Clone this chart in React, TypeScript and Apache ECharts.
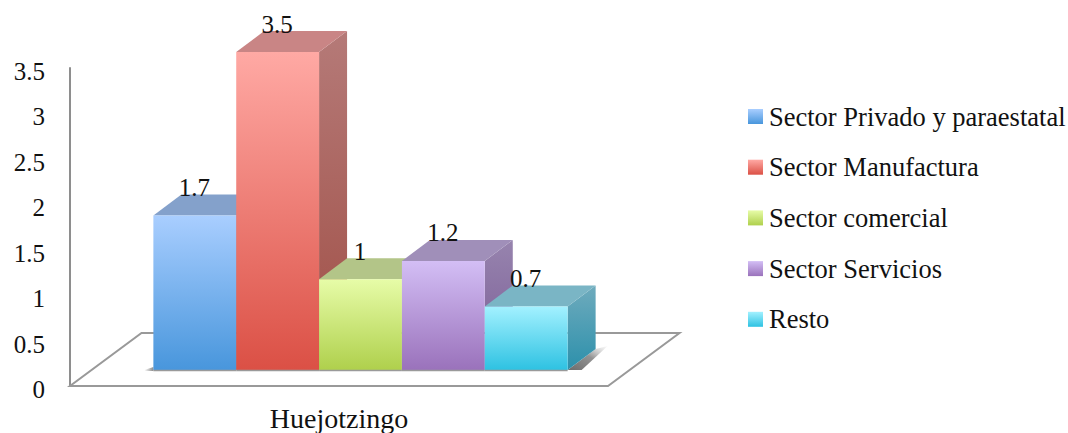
import React, { useEffect, useRef } from "react";
import * as echarts from "echarts";

const categories = ["Huejotzingo"];
const seriesNames = ["Sector Privado y paraestatal", "Sector Manufactura", "Sector comercial", "Sector Servicios", "Resto"];
const privado = [1.7];
const manufactura = [3.5];
const comercial = [1];
const servicios = [1.2];
const resto = [0.7];
const allValues = [privado, manufactura, comercial, servicios, resto];

const frontTop = ["#A9CEFF", "#FFA9A4", "#E7FCA8", "#D3BEF5", "#A3F1FF"];
const frontBottom = ["#4896DC", "#DB5045", "#AFD04C", "#9A72BB", "#2EC2E2"];
const topFace = ["#84A1CB", "#C98585", "#B3C588", "#A08FB9", "#7AB5C5"];
const sideTop = ["#7D9ACB", "#B57A78", "#A5B97F", "#9784AE", "#6FABBD"];
const sideBottom = ["#3C78AE", "#A04E45", "#86A23C", "#795A95", "#2C90AB"];

const SERIF = "'Liberation Serif', serif";
const FLOOR_DX = 71.5;
const FLOOR_DY = 53;
const BAR_DX = 28;
const BAR_DY = 21;
const BASE_DX = 21.5;
const BASE_DY = 16;
const GROUP_FRACTION = 0.77;

const grad = (a: string, b: string) =>
  new echarts.graphic.LinearGradient(0, 0, 0, 1, [
    { offset: 0, color: a },
    { offset: 1, color: b },
  ]);

export default function App() {
  const ref = useRef<HTMLDivElement>(null);
  useEffect(() => {
    const chart = echarts.init(ref.current!, null, { renderer: "svg" });
    const floor = {
      type: "custom",
      name: "floor",
      silent: true,
      data: [[0, 0]],
      encode: { x: 0, y: 1 },
      renderItem: (params: any, api: any) => {
        const cs = params.coordSys;
        const y0 = api.coord([0, 0])[1];
        const x0 = cs.x;
        const x1 = cs.x + cs.width;
        return {
          type: "polygon",
          shape: {
            points: [
              [x0, y0],
              [x1, y0],
              [x1 + FLOOR_DX, y0 - FLOOR_DY],
              [x0 + FLOOR_DX, y0 - FLOOR_DY],
            ],
          },
          style: { fill: "#ffffff", stroke: "#999999", lineWidth: 2 },
        };
      },
    };
    const bars = seriesNames.map((name, i) => ({
      type: "custom",
      name,
      silent: true,
      itemStyle: { color: grad(frontTop[i], frontBottom[i]) },
      data: allValues[i].map((v, c) => [c, v]),
      encode: { x: 0, y: 1 },
      renderItem: (_p: any, api: any) => {
        const cat = api.value(0);
        const val = api.value(1);
        const band = api.size([1, 0])[0];
        const [cx, y0] = api.coord([cat, 0]);
        const vy = api.coord([cat, val])[1];
        const w = (band * GROUP_FRACTION) / seriesNames.length;
        const l = cx + BASE_DX - (w * seriesNames.length) / 2 + i * w;
        const r = l + w;
        const b = y0 - BASE_DY;
        const t = vy - BASE_DY;
        const children: any[] = [];
        if (i === 0) {
          children.push({
            type: "polygon",
            shape: { points: [[l - 9, b], [l, b - 3], [l, b + 1], [l - 9, b + 1]] },
            style: {
              fill: new echarts.graphic.LinearGradient(1, 0, 0, 0, [
                { offset: 0, color: "rgba(90,90,90,0.7)" },
                { offset: 1, color: "rgba(90,90,90,0)" },
              ]),
            },
          });
        }
        if (i === seriesNames.length - 1) {
          children.push({
            type: "polygon",
            shape: { points: [[r, b], [r + BAR_DX, b - BAR_DY], [r + 40, b - BAR_DY - 3], [r + 14, b]] },
            style: {
              fill: new echarts.graphic.LinearGradient(0, 1, 1, 0, [
                { offset: 0, color: "rgba(70,70,70,0.8)" },
                { offset: 0.55, color: "rgba(100,100,100,0.7)" },
                { offset: 1, color: "rgba(170,170,170,0.05)" },
              ]),
            },
          });
        }
        children.push(
          {
            type: "polygon",
            shape: { points: [[r, t], [r + BAR_DX, t - BAR_DY], [r + BAR_DX, b - BAR_DY], [r, b]] },
            style: { fill: grad(sideTop[i], sideBottom[i]) },
          },
          {
            type: "polygon",
            shape: { points: [[l, t], [l + BAR_DX, t - BAR_DY], [r + BAR_DX, t - BAR_DY], [r, t]] },
            style: { fill: topFace[i] },
          },
          {
            type: "rect",
            shape: { x: l, y: t, width: w, height: b - t },
            style: { fill: grad(frontTop[i], frontBottom[i]) },
          },
          {
            type: "line",
            shape: { x1: l, y1: b + 0.5, x2: r, y2: b + 0.5 },
            style: { stroke: "#9a9a9a", lineWidth: 1.5 },
          },
          {
            type: "text",
            z2: 100,
            x: l + w / 2 - 0.5,
            y: t - 28,
            style: {
              text: String(val),
              fill: "#111111",
              font: `25px ${SERIF}`,
              align: "center",
              verticalAlign: "middle",
            },
          }
        );
        return { type: "group", children };
      },
    }));
    chart.setOption({
      animation: false,
      grid: { left: 70, top: 68, width: 538, height: 318, containLabel: false, outerBoundsMode: "none" },
      legend: {
        orient: "vertical",
        left: 748,
        top: 103,
        padding: 0,
        icon: "rect",
        itemWidth: 15,
        itemHeight: 15,
        itemGap: 23.7,
        selectedMode: false,
        data: seriesNames,
        textStyle: { fontFamily: SERIF, fontSize: 26.5, color: "#111111", padding: [0, 0, 0, 1] },
      },
      xAxis: {
        type: "category",
        data: categories,
        axisLine: { show: false },
        axisTick: { show: false },
        axisLabel: { fontFamily: SERIF, fontSize: 28, color: "#111111", margin: 18 },
      },
      yAxis: {
        type: "value",
        min: 0,
        max: 3.5,
        interval: 0.5,
        splitLine: { show: false },
        axisTick: { show: false },
        axisLine: { show: true, lineStyle: { color: "#8e8e8e", width: 2 } },
        axisLabel: { fontFamily: SERIF, fontSize: 25, color: "#111111", margin: 25, align: "right", verticalAlign: "top", padding: [-9, 0, 0, 0] },
      },
      series: [floor, ...bars],
    });
    return () => chart.dispose();
  }, []);
  return <div ref={ref} style={{ position: "absolute", left: 0, top: 0, width: 1068, height: 433 }} />;
}
